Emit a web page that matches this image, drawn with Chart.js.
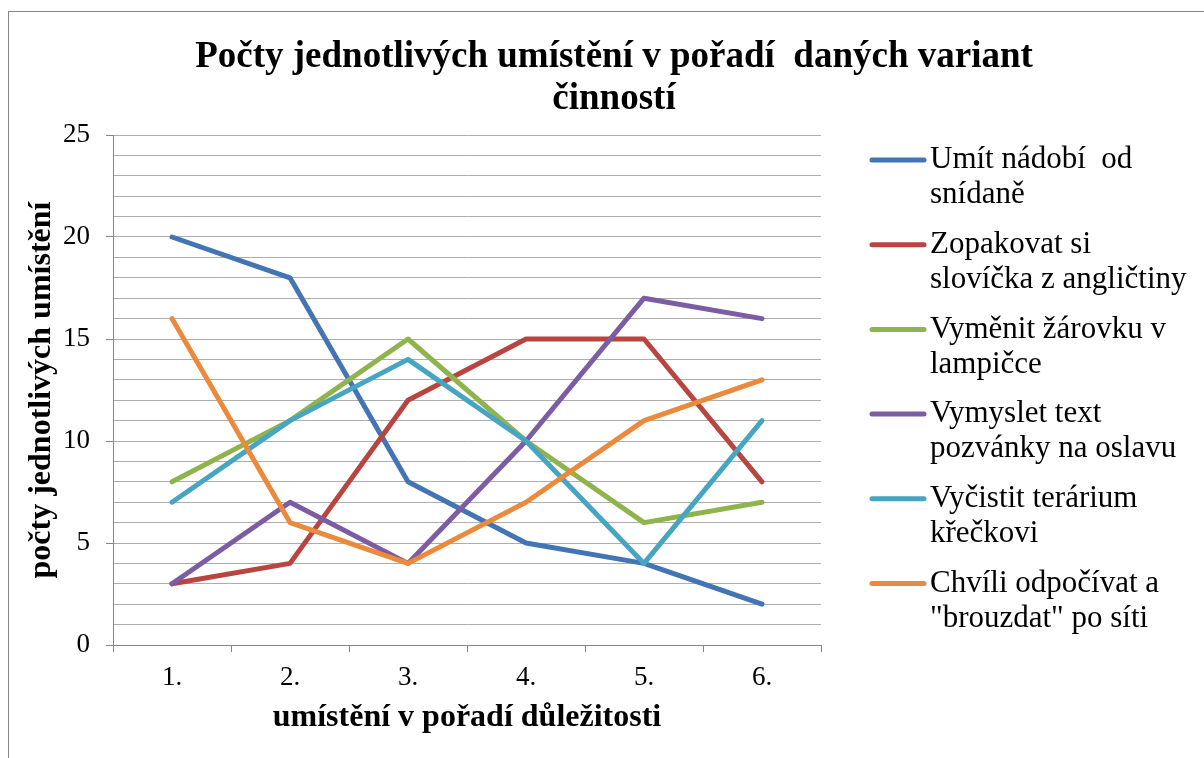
<!DOCTYPE html>
<html>
<head>
<meta charset="utf-8">
<script src="https://cdn.jsdelivr.net/npm/chart.js@4/dist/chart.umd.min.js"></script>
<style>
  body { margin: 0; background: #fff; overflow: hidden; }
  #frame { position: absolute; left: 8px; top: 11px; width: 1300px; height: 900px; border: 1px solid #858585; }
  #chart { position: absolute; left: 0; top: 0; }
</style>
</head>
<body>
<div id="frame"></div>
<canvas id="chart" width="1204" height="758"></canvas>
<script>
// data
const categories = ['1.', '2.', '3.', '4.', '5.', '6.'];
const titleLines = ['Počty jednotlivých umístění v pořadí  daných variant', 'činností'];
const xTitle = 'umístění v pořadí důležitosti';
const yTitle = 'počty jednotlivých umístění';

const seriesNames = [
  'Umít nádobí  od\nsnídaně',
  'Zopakovat si\nslovíčka z angličtiny',
  'Vyměnit žárovku v\nlampičce',
  'Vymyslet text\npozvánky na oslavu',
  'Vyčistit terárium\nkřečkovi',
  'Chvíli odpočívat a\n"brouzdat" po síti'
];
const umitNadobi = [20, 18, 8, 5, 4, 2];
const zopakovat = [3, 4, 12, 15, 15, 8];
const vymenitZarovku = [8, 11, 15, 10, 6, 7];
const vymysletText = [3, 7, 4, 10, 17, 16];
const vycistitTerarium = [7, 11, 14, 10, 4, 11];
const chviliOdpocivat = [16, 6, 4, 7, 11, 13];
const seriesColors = ['#4374B3', '#B8453F', '#8FB44E', '#7C5CA2', '#46A5C2', '#EB8A3C'];

const allSeries = [umitNadobi, zopakovat, vymenitZarovku, vymysletText, vycistitTerarium, chviliOdpocivat];

Chart.defaults.font.family = '"Liberation Serif", "Times New Roman", serif';
Chart.defaults.color = '#000';

// titulek a legenda vpravo (zalamovane popisky)
const decor = {
  id: 'decor',
  afterDraw(chart) {
    const ctx = chart.ctx;
    ctx.save();
    ctx.fillStyle = '#000';
    ctx.textAlign = 'center';
    ctx.textBaseline = 'alphabetic';
    ctx.font = 'bold 37px "Liberation Serif"';
    titleLines.forEach((t, i) => ctx.fillText(t, 614, 67 + i * 42));

    ctx.font = '31px "Liberation Serif"';
    ctx.textAlign = 'left';
    ctx.textBaseline = 'middle';
    chart.data.datasets.forEach((ds, i) => {
      const y = 160 + i * 84.7;
      ctx.strokeStyle = ds.borderColor;
      ctx.lineWidth = 5;
      ctx.lineCap = 'round';
      ctx.beginPath();
      ctx.moveTo(872, y);
      ctx.lineTo(924, y);
      ctx.stroke();
      ds.label.split('\n').forEach((line, j) => ctx.fillText(line, 930, y + j * 35));
    });
    ctx.restore();
  }
};

new Chart(document.getElementById('chart'), {
  type: 'line',
  data: {
    labels: categories,
    datasets: allSeries.map((values, i) => ({
      label: seriesNames[i],
      data: values,
      borderColor: seriesColors[i],
      backgroundColor: seriesColors[i],
      borderWidth: 5,
      borderJoinStyle: 'round',
      borderCapStyle: 'round',
      pointRadius: 0,
      tension: 0,
      order: allSeries.length - i
    }))
  },
  options: {
    responsive: false,
    animation: false,
    devicePixelRatio: 1,
    layout: { padding: { top: 135, right: 383, bottom: 0, left: 0 } },
    plugins: {
      legend: { display: false },
      title: { display: false },
      tooltip: { enabled: false }
    },
    scales: {
      x: {
        offset: true,
        afterFit: scale => { scale.height = 113; },
        grid: { offset: true, drawOnChartArea: false, tickLength: 7, tickColor: '#868686' },
        border: { color: '#868686', width: 1 },
        ticks: { font: { size: 27 }, padding: 10, maxRotation: 0 },
        title: { display: true, text: xTitle, font: { size: 32, weight: 'bold' }, padding: { top: 0, bottom: 21 } }
      },
      y: {
        min: 0,
        max: 25,
        afterFit: scale => { scale.width = 113; },
        grid: {
          color: '#adadad',
          tickLength: 7,
          tickColor: ctx => (ctx.tick && ctx.tick.value % 5 === 0) ? '#868686' : 'rgba(0,0,0,0)'
        },
        border: { color: '#868686', width: 1 },
        ticks: {
          stepSize: 1,
          autoSkip: false,
          font: { size: 27 },
          padding: 16,
          callback: v => (v % 5 === 0 ? v : '')
        },
        title: { display: true, text: yTitle, font: { size: 32, weight: 'bold' }, padding: { top: 23, bottom: 0 } }
      }
    }
  },
  plugins: [decor]
});
</script>
</body>
</html>
